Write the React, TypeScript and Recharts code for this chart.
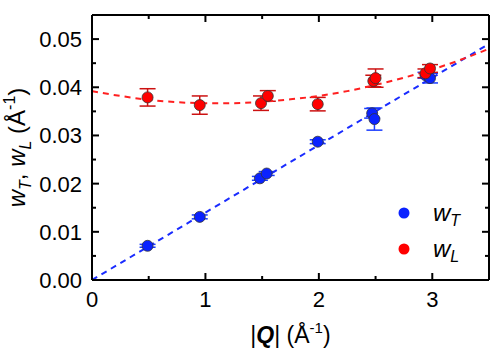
import React from 'react';
import { ComposedChart, Scatter, Line, XAxis, YAxis, ErrorBar, Legend } from 'recharts';

// Transverse width w_T
const qT = [0.49, 0.95, 1.48, 1.54, 1.99, 2.47, 2.49, 2.94, 2.98];
const wT = [0.0071, 0.0131, 0.0211, 0.0221, 0.0287, 0.0346, 0.0334, 0.0425, 0.0419];
const errT = [0.0003, 0.0004, 0.0004, 0.0004, 0.0004, 0.001, 0.0023, 0.0006, 0.001];

// Longitudinal width w_L
const qL = [0.49, 0.95, 1.49, 1.55, 1.99, 2.48, 2.5, 2.94, 2.98];
const wL = [0.0379, 0.0363, 0.0367, 0.0382, 0.0365, 0.0413, 0.0419, 0.0429, 0.0439];
const errL = [0.0018, 0.0019, 0.0015, 0.0011, 0.0014, 0.0012, 0.0019, 0.0009, 0.0008];

// Fit curves
const fitQL = [0, 0.25, 0.5, 0.75, 1, 1.25, 1.5, 1.75, 2, 2.25, 2.5, 2.75, 3, 3.25, 3.5];
const fitWL = [0.0392, 0.0382, 0.0374, 0.0369, 0.0367, 0.0367, 0.037, 0.0375, 0.0382, 0.0392, 0.0405, 0.042, 0.0437, 0.0457, 0.048];
const fitQT = [0, 3.5];
const fitWT = [0, 0.049];

// Ticks
const xTicks = [0, 0.5, 1, 1.5, 2, 2.5, 3, 3.5];
const yTicks = [0, 0.005, 0.01, 0.015, 0.02, 0.025, 0.03, 0.035, 0.04, 0.045, 0.05];

const dataT = qT.map((q, i) => ({ q, w: wT[i], err: errT[i] }));
const dataL = qL.map((q, i) => ({ q, w: wL[i], err: errL[i] }));
const fitL = fitQL.map((q, i) => ({ q, w: fitWL[i] }));
const fitT = fitQT.map((q, i) => ({ q, w: fitWT[i] }));

const FONT = '"Liberation Sans", Arial, sans-serif';
const RED = '#ff0000';
const BLUE = '#0a22ff';
const MAJ = 7;
const MIN = 4;

const isMajorX = (v: number) => Math.abs(v - Math.round(v)) < 1e-6;
const isMajorY = (v: number) => Math.abs(v * 100 - Math.round(v * 100)) < 1e-6;

const BottomTick = (props: any) => {
  const { x, y, payload } = props;
  const v = payload.value;
  const major = isMajorX(v);
  return (
    <g>
      <line x1={x} y1={y} x2={x} y2={y - (major ? MAJ : MIN)} stroke="#000" strokeWidth={2} />
      {major && (
        <text x={x} y={y + 27} textAnchor="middle" fontSize={22} fill="#000" fontFamily={FONT}>
          {String(v)}
        </text>
      )}
    </g>
  );
};

const TopTick = (props: any) => {
  const { x, y, payload } = props;
  const major = isMajorX(payload.value);
  return <line x1={x} y1={y} x2={x} y2={y + (major ? MAJ : MIN)} stroke="#000" strokeWidth={2} />;
};

const LeftTick = (props: any) => {
  const { x, y, payload } = props;
  const v = payload.value;
  const major = isMajorY(v);
  return (
    <g>
      <line x1={x} y1={y} x2={x + (major ? MAJ : MIN)} y2={y} stroke="#000" strokeWidth={2} />
      {major && (
        <text x={x - 10} y={y} dy="0.36em" textAnchor="end" fontSize={22} fill="#000" fontFamily={FONT}>
          {v.toFixed(2)}
        </text>
      )}
    </g>
  );
};

const RightTick = (props: any) => {
  const { x, y, payload } = props;
  const major = isMajorY(payload.value);
  return <line x1={x} y1={y} x2={x - (major ? MAJ : MIN)} y2={y} stroke="#000" strokeWidth={2} />;
};

const XLabel = (props: any) => {
  const vb = props.viewBox || { x: 92, y: 280, width: 397, height: 73 };
  const cx = vb.x + vb.width / 2;
  const y = vb.y + 63;
  return (
    <text x={cx} y={y} textAnchor="middle" fontSize={23} fill="#000" fontFamily={FONT}>
      <tspan>|</tspan>
      <tspan fontWeight="bold" fontStyle="italic">Q</tspan>
      <tspan>| (Å</tspan>
      <tspan fontSize={15} dy={-10}>-1</tspan>
      <tspan dy={10}>)</tspan>
    </text>
  );
};

const YLabel = (props: any) => {
  const vb = props.viewBox || { x: 0, y: 15, width: 92, height: 265 };
  const cx = vb.x + 25;
  const cy = vb.y + vb.height / 2;
  return (
    <text
      x={cx}
      y={cy}
      textAnchor="middle"
      fontSize={24}
      fill="#000"
      fontFamily={FONT}
      transform={`rotate(-90, ${cx}, ${cy})`}
    >
      <tspan fontStyle="italic">w</tspan>
      <tspan fontStyle="italic" fontSize={16} dy={6}>T</tspan>
      <tspan dy={-6}>, </tspan>
      <tspan fontStyle="italic">w</tspan>
      <tspan fontStyle="italic" fontSize={16} dy={6}>L</tspan>
      <tspan dy={-6}> (Å</tspan>
      <tspan fontSize={16} dy={-10}>-1</tspan>
      <tspan dy={10}>)</tspan>
    </text>
  );
};

const makeDot = (fill: string) => (props: any) => {
  const { cx, cy } = props;
  if (cx == null || cy == null) return <g />;
  return <circle cx={cx} cy={cy} r={5.5} fill={fill} stroke="#333" strokeWidth={0.8} />;
};

const LegendContent = () => (
  <svg width={100} height={70} style={{ overflow: 'visible' }}>
    <circle cx={14} cy={18} r={5.5} fill={BLUE} />
    <text x={43} y={26} fontSize={24} fill="#000" fontFamily={FONT}>
      <tspan fontStyle="italic">w</tspan>
      <tspan fontStyle="italic" fontSize={16} dy={5}>T</tspan>
    </text>
    <circle cx={14} cy={54} r={5.5} fill={RED} />
    <text x={43} y={62} fontSize={24} fill="#000" fontFamily={FONT}>
      <tspan fontStyle="italic">w</tspan>
      <tspan fontStyle="italic" fontSize={16} dy={5}>L</tspan>
    </text>
  </svg>
);

export default function App() {
  return (
    <div style={{ position: 'absolute', left: 0, top: 0, width: 498, height: 353, background: '#fff' }}>
      <ComposedChart width={498} height={353} margin={{ top: 14, right: 8, bottom: 0, left: 0 }}>
        <XAxis
          xAxisId="b"
          dataKey="q"
          type="number"
          orientation="bottom"
          domain={[0, 3.5]}
          allowDataOverflow
          ticks={xTicks}
          interval={0}
          height={73}
          tickSize={0}
          tickMargin={0}
          tickLine={false}
          tick={<BottomTick />}
          axisLine={{ stroke: '#000', strokeWidth: 2 }}
          label={{ content: <XLabel /> }}
        />
        <XAxis
          xAxisId="t"
          dataKey="q"
          type="number"
          orientation="top"
          domain={[0, 3.5]}
          allowDataOverflow
          ticks={xTicks}
          interval={0}
          height={1}
          tickSize={0}
          tickMargin={0}
          tickLine={false}
          tick={<TopTick />}
          axisLine={{ stroke: '#000', strokeWidth: 2 }}
        />
        <YAxis
          yAxisId="l"
          type="number"
          orientation="left"
          domain={[0, 0.055]}
          allowDataOverflow
          ticks={yTicks}
          interval={0}
          width={92}
          tickSize={0}
          tickMargin={0}
          tickLine={false}
          tick={<LeftTick />}
          axisLine={{ stroke: '#000', strokeWidth: 2 }}
          label={{ content: <YLabel /> }}
        />
        <YAxis
          yAxisId="r"
          type="number"
          orientation="right"
          domain={[0, 0.055]}
          allowDataOverflow
          ticks={yTicks}
          interval={0}
          width={1}
          tickSize={0}
          tickMargin={0}
          tickLine={false}
          tick={<RightTick />}
          axisLine={{ stroke: '#000', strokeWidth: 2 }}
        />
        <Scatter
          xAxisId="b"
          yAxisId="l"
          data={dataT}
          dataKey="w"
          fill={BLUE}
          shape={makeDot(BLUE)}
          isAnimationActive={false}
        >
          <ErrorBar dataKey="err" direction="y" width={8} stroke="#1a3cff" strokeWidth={1.5} />
        </Scatter>
        <Scatter
          xAxisId="b"
          yAxisId="l"
          data={dataL}
          dataKey="w"
          fill={RED}
          shape={makeDot(RED)}
          isAnimationActive={false}
        >
          <ErrorBar dataKey="err" direction="y" width={8} stroke="#cc1111" strokeWidth={1.5} />
        </Scatter>
        <Line
          xAxisId="t"
          yAxisId="r"
          data={fitT}
          dataKey="w"
          type="linear"
          stroke="#1a2cff"
          strokeWidth={2}
          strokeDasharray="6 5"
          dot={false}
          activeDot={false}
          isAnimationActive={false}
        />
        <Line
          xAxisId="b"
          yAxisId="l"
          data={fitL}
          dataKey="w"
          type="monotone"
          stroke="#ff2020"
          strokeWidth={2}
          strokeDasharray="6 5"
          dot={false}
          activeDot={false}
          isAnimationActive={false}
        />
        <Legend
          layout="vertical"
          align="center"
          verticalAlign="middle"
          content={<LegendContent />}
          wrapperStyle={{ position: 'absolute', left: 390, top: 195, width: 100, height: 70 }}
        />
      </ComposedChart>
    </div>
  );
}
